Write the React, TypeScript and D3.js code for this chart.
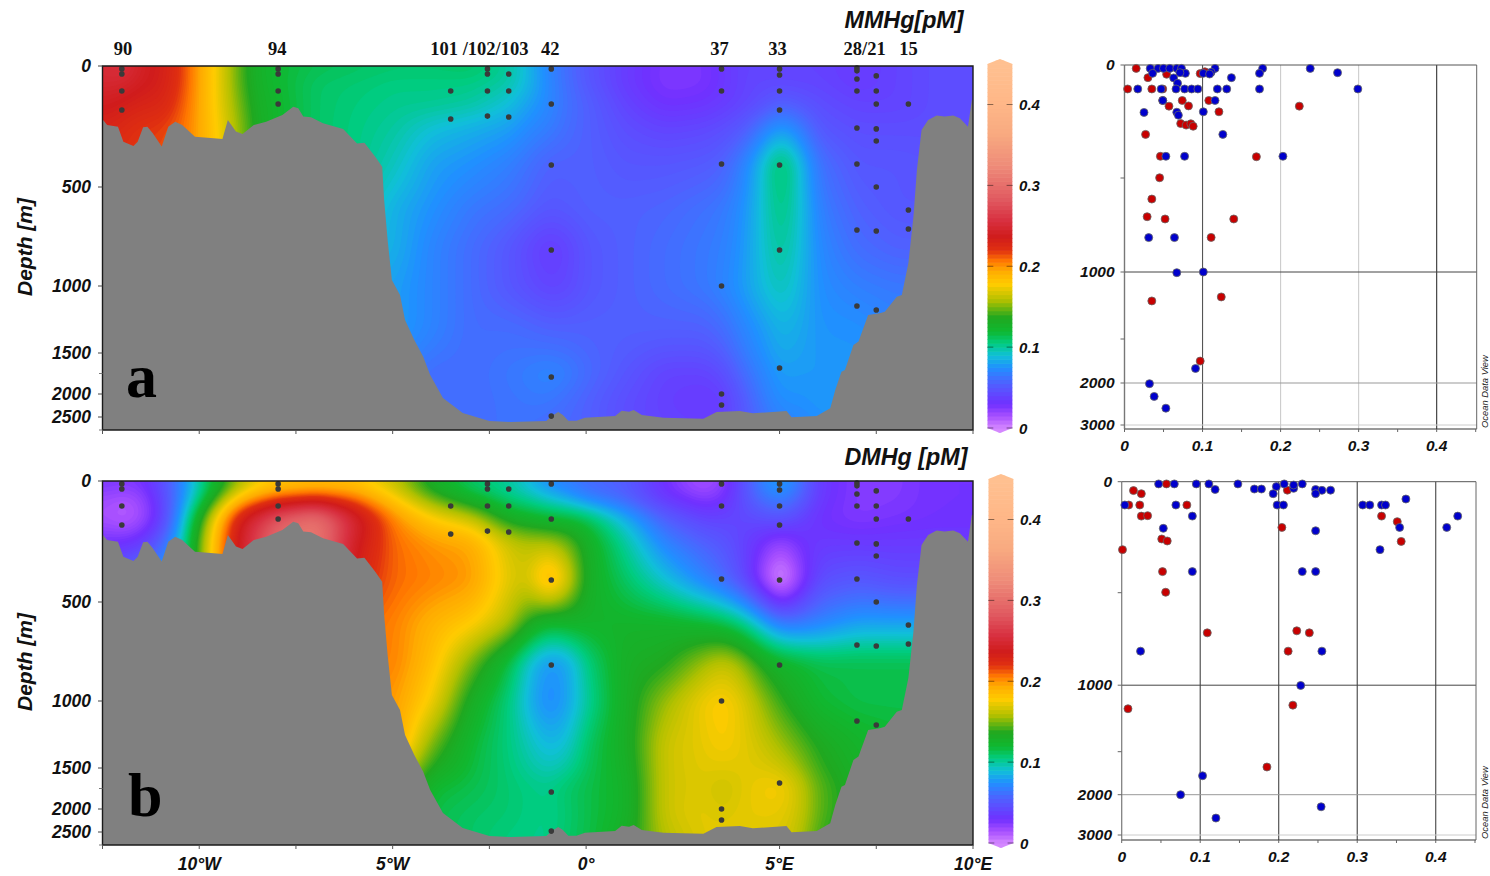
import React, { useMemo } from "react";
import * as d3 from "d3";

// ---------- DATA ----------
const stationLabels = [
  { text: "90", lon: -11.97 }, { text: "94", lon: -7.98 }, { text: "101 /102/103", lon: -2.76 },
  { text: "42", lon: -0.93 }, { text: "37", lon: 3.45 }, { text: "33", lon: 4.95 },
  { text: "28/21", lon: 7.2 }, { text: "15", lon: 8.33 },
];
const stationCasts: [number, number[]][] = [
  [-12, [12, 33, 103, 182]],
  [-7.96, [12, 33, 103, 157]],
  [-3.5, [103, 219]],
  [-2.55, [12, 33, 103, 207]],
  [-2, [33, 103, 211]],
  [-0.9, [12, 157, 409, 818, 1793, 2480]],
  [3.5, [12, 103, 405, 1000, 2000, 2240]],
  [5, [12, 37, 103, 182, 409, 818, 1683]],
  [7, [8, 20, 54, 103, 256, 405, 717, 1149]],
  [7.5, [41, 103, 157, 260, 310, 500, 722, 1179]],
  [8.33, [157, 616, 712]],
];
const bathyLon = [-12.5, -12.38, -12.1, -11.96, -11.7, -11.59, -11.45, -11.34, -11.2, -10.97, -10.8, -10.62, -10.44, -10.11, -9.7, -9.4, -9.26, -9.05, -8.88, -8.59, -8.27, -7.85, -7.57, -7.44, -7.31, -7.11, -6.8, -6.28, -5.92, -5.73, -5.45, -5.27, -5.22, -5.13, -5.02, -4.81, -4.68, -4.44, -4.21, -4.03, -3.7, -3.19, -2.5, -1.95, -1.03, -0.89, -0.72, -0.6, -0.46, -0.25, -0.03, 0.75, 0.92, 1.11, 1.23, 1.44, 2.0, 3.03, 3.37, 3.97, 4.31, 5.18, 5.31, 5.96, 6.31, 6.44, 6.6, 6.69, 6.91, 7.04, 7.29, 7.59, 7.72, 8.03, 8.16, 8.33, 8.46, 8.55, 8.67, 8.84, 9.06, 9.27, 9.49, 9.66, 9.87, 9.97, 10];
const bathyDepth = [220, 244, 251, 313, 331, 313, 253, 251, 278, 333, 251, 230, 244, 292, 298, 302, 223, 271, 281, 244, 230, 202, 168, 175, 209, 212, 237, 260, 320, 317, 375, 416, 566, 768, 970, 1067, 1254, 1403, 1545, 1768, 2087, 2413, 2592, 2615, 2592, 2478, 2391, 2457, 2585, 2585, 2516, 2478, 2363, 2385, 2348, 2457, 2516, 2540, 2391, 2370, 2420, 2370, 2507, 2478, 2311, 1951, 1728, 1707, 1440, 1415, 1216, 1204, 1192, 1080, 1067, 884, 650, 430, 264, 223, 205, 209, 205, 216, 251, 140, 140];

const fieldLon = [-12.5, -12, -11.5, -11, -10.5, -10, -9.5, -9, -8.5, -8, -7, -6, -5, -4, -3, -2, -1.5, -1, -0.5, 0, 1, 2, 3, 3.5, 4, 4.5, 5, 5.5, 6, 7, 8, 9, 10];
const fieldDepth = [0, 50, 150, 250, 400, 600, 800, 1000, 1300, 1700, 2100, 2600];
const mmhgField = [
  [.25, .26, .24, .235, .22, .195, .172, .145, .125, .12, .115, .112, .11, .11, .112, .1, .085, .07, .06, .05, .037, .027, .028, .034, .04, .04, .04, .04, .04, .035, .04, .045, .045],
  [.25, .25, .24, .235, .22, .195, .172, .145, .125, .12, .11, .108, .105, .105, .105, .1, .088, .072, .06, .05, .035, .025, .026, .032, .04, .042, .04, .04, .04, .035, .04, .045, .045],
  [.24, .235, .23, .23, .215, .195, .172, .15, .128, .122, .11, .106, .103, .103, .1, .09, .08, .072, .062, .055, .04, .03, .032, .036, .04, .045, .055, .05, .045, .04, .04, .045, .045],
  [.23, .225, .22, .218, .21, .195, .175, .155, .13, .122, .11, .105, .1, .09, .085, .08, .072, .068, .06, .055, .045, .04, .042, .045, .05, .065, .08, .068, .05, .045, .045, .045, .045],
  [.225, .22, .215, .215, .21, .195, .178, .155, .13, .122, .11, .105, .095, .08, .075, .068, .062, .055, .055, .055, .05, .05, .052, .055, .068, .088, .115, .09, .062, .05, .05, .048, .048],
  [.1, .1, .1, .1, .1, .1, .1, .1, .1, .1, .1, .1, .085, .075, .065, .06, .055, .05, .052, .055, .055, .057, .062, .065, .074, .09, .108, .092, .068, .055, .05, .05, .05],
  [.09, .09, .09, .09, .09, .09, .09, .09, .09, .09, .09, .09, .085, .07, .06, .05, .042, .035, .04, .05, .055, .06, .065, .068, .076, .09, .103, .09, .072, .06, .055, .055, .055],
  [.08, .08, .08, .08, .08, .08, .08, .08, .08, .08, .08, .08, .08, .07, .06, .05, .045, .04, .042, .05, .055, .06, .065, .07, .078, .088, .097, .087, .074, .068, .065, .065, .065],
  [.08, .08, .08, .08, .08, .08, .08, .08, .08, .08, .08, .08, .08, .07, .06, .06, .058, .055, .055, .055, .055, .055, .055, .06, .07, .078, .087, .083, .076, .075, .07, .07, .07],
  [.07, .07, .07, .07, .07, .07, .07, .07, .07, .07, .07, .07, .07, .06, .06, .065, .068, .072, .068, .06, .05, .04, .04, .045, .06, .07, .08, .078, .078, .078, .078, .078, .078],
  [.06, .06, .06, .06, .06, .06, .06, .06, .06, .06, .06, .06, .06, .06, .06, .063, .065, .065, .06, .055, .045, .038, .034, .035, .05, .065, .075, .075, .078, .078, .078, .078, .078],
  [.06, .06, .06, .06, .06, .06, .06, .06, .06, .06, .06, .06, .06, .06, .062, .062, .062, .06, .058, .055, .045, .04, .038, .04, .05, .06, .07, .07, .075, .075, .075, .075, .075],
];
const dmhgField = [
  [.03, .03, .03, .045, .07, .1, .125, .15, .168, .175, .18, .178, .16, .125, .108, .1, .085, .07, .065, .06, .055, .03, .012, .02, .045, .07, .085, .065, .035, .025, .025, .03, .03],
  [.02, .015, .02, .04, .07, .1, .14, .175, .19, .2, .205, .2, .175, .14, .115, .1, .095, .085, .075, .06, .05, .03, .02, .025, .045, .065, .075, .06, .035, .025, .025, .03, .03],
  [.015, .008, .015, .035, .08, .135, .19, .235, .26, .285, .31, .25, .205, .18, .165, .13, .125, .12, .12, .115, .085, .055, .04, .04, .042, .045, .05, .04, .03, .025, .028, .03, .03],
  [.03, .03, .035, .055, .09, .15, .2, .24, .27, .3, .31, .24, .21, .2, .195, .165, .16, .16, .15, .13, .1, .07, .055, .05, .04, .03, .018, .03, .035, .035, .035, .035, .035],
  [.05, .06, .07, .085, .09, .15, .2, .24, .27, .3, .3, .23, .21, .205, .2, .17, .165, .2, .17, .13, .11, .09, .07, .06, .045, .02, -.01, .02, .045, .05, .045, .045, .045],
  [.21, .21, .21, .21, .21, .21, .21, .21, .21, .21, .21, .21, .205, .19, .18, .16, .135, .12, .125, .125, .125, .125, .12, .115, .105, .085, .065, .065, .07, .08, .08, .08, .08],
  [.205, .205, .205, .205, .205, .205, .205, .205, .205, .205, .205, .205, .205, .185, .15, .115, .09, .075, .08, .105, .13, .135, .155, .165, .155, .135, .125, .12, .115, .115, .115, .115, .115],
  [.2, .2, .2, .2, .2, .2, .2, .2, .2, .2, .2, .2, .2, .175, .13, .105, .085, .07, .08, .1, .13, .155, .175, .18, .172, .155, .14, .13, .12, .115, .115, .115, .115],
  [.2, .2, .2, .2, .2, .2, .2, .2, .2, .2, .2, .2, .2, .15, .12, .105, .095, .085, .09, .11, .13, .165, .172, .178, .172, .165, .155, .145, .135, .125, .12, .12, .12],
  [.16, .16, .16, .16, .16, .16, .16, .16, .16, .16, .16, .16, .16, .12, .115, .108, .105, .103, .11, .115, .125, .165, .17, .163, .17, .175, .178, .165, .145, .13, .12, .12, .12],
  [.15, .15, .15, .15, .15, .15, .15, .15, .15, .15, .15, .15, .15, .115, .11, .108, .105, .103, .108, .115, .125, .165, .172, .168, .172, .172, .172, .165, .145, .13, .12, .12, .12],
  [.14, .14, .14, .14, .14, .14, .14, .14, .14, .14, .14, .14, .14, .115, .11, .105, .104, .103, .11, .115, .13, .16, .17, .172, .172, .17, .17, .16, .14, .125, .12, .12, .12],
];

const colorStops = [0, .015, .03, .055, .075, .09, .105, .12, .137, .158, .178, .195, .207, .22, .237, .257, .282, .323, .364, .405, .45];
const colorValues = ["#d488ff", "#a850ff", "#7030ff", "#5060ff", "#2090ff", "#10c0d8", "#00cc80", "#10b830", "#20a820", "#b0c000", "#ffcc00", "#ffaa00", "#ff7700", "#e03010", "#d01c1c", "#d83040", "#e05860", "#ee8a78", "#f8aa80", "#ffb888", "#ffc090"];

const scatterMMHgRed: [number, number][] = [[.015, 15], [.03, 56], [.004, 106], [.035, 106], [.049, 106], [.054, 41], [.049, 157], [.074, 157], [.057, 182], [.082, 181], [.108, 157], [.097, 38], [.103, 30], [.121, 207], [.224, 182], [.072, 259], [.079, 266], [.085, 260], [.088, 271], [.027, 307], [.046, 404], [.169, 406], [.045, 499], [.035, 612], [.029, 706], [.052, 718], [.14, 718], [.111, 816], [.035, 1216], [.124, 1186], [.097, 1751]];
const scatterMMHgBlue: [number, number][] = [[.033, 15], [.043, 15], [.05, 15], [.058, 15], [.067, 15], [.073, 15], [.036, 37], [.078, 37], [.071, 34], [.063, 57], [.068, 81], [.116, 15], [.111, 32], [.101, 37], [.109, 40], [.177, 15], [.173, 37], [.238, 15], [.273, 34], [.137, 56], [.017, 106], [.047, 106], [.066, 106], [.077, 106], [.086, 106], [.094, 106], [.119, 106], [.131, 106], [.173, 106], [.299, 106], [.049, 157], [.116, 157], [.025, 210], [.067, 209], [.069, 222], [.101, 207], [.126, 307], [.053, 404], [.077, 404], [.203, 404], [.031, 817], [.064, 817], [.067, 1005], [.101, 1000], [.091, 1835], [.032, 2016], [.038, 2320], [.053, 2600]];
const scatterDMHgRed: [number, number][] = [[.015, 40], [.025, 54], [.009, 105], [.023, 105], [.025, 155], [.033, 153], [.001, 306], [.051, 258], [.058, 267], [.052, 405], [.056, 498], [.057, 10], [.083, 105], [.211, 38], [.204, 206], [.109, 717], [.223, 706], [.239, 717], [.212, 816], [.218, 1150], [.008, 1177], [.185, 1678], [.331, 155], [.351, 180], [.356, 269]];
const scatterDMHgBlue: [number, number][] = [[.004, 105], [.047, 10], [.067, 10], [.095, 10], [.111, 10], [.119, 35], [.148, 10], [.169, 33], [.178, 33], [.197, 22], [.207, 10], [.193, 54], [.198, 105], [.206, 105], [.219, 30], [.219, 15], [.23, 10], [.247, 35], [.255, 39], [.266, 38], [.247, 54], [.069, 105], [.09, 155], [.053, 210], [.247, 221], [.09, 405], [.23, 405], [.247, 405], [.024, 816], [.255, 816], [.228, 1002], [.103, 1780], [.075, 2000], [.254, 2300], [.12, 2580], [.307, 105], [.316, 105], [.331, 105], [.336, 105], [.362, 78], [.428, 155], [.414, 206], [.354, 206], [.329, 306]];

const depthTicks = [0, 500, 1000, 1500, 2000, 2500];
const depthMinorTicks = [1750, 2800];
const colorTicks = [0, .1, .2, .3, .4];
const lonTicks = [-12.5, -10, -7.5, -5, -2.5, 0, 5, 7.5, 10];
const lonLabels: [number, string][] = [[-10, "10°W"], [-5, "5°W"], [0, "0°"], [5, "5°E"], [10, "10°E"]];
const scatterXTicks = [0, .1, .2, .3, .4];
const scatterYTicks = [0, 1000, 2000, 3000];
const scatterDepthDomain = [0, 500, 1000, 1500, 2000, 3000, 3100];

// ---------- SCALES ----------
const SANS = "'Liberation Sans', Arial, sans-serif";
const SERIF = "'Liberation Serif', 'Times New Roman', serif";
const lonX = d3.scaleLinear().domain([-12.5, 10]).range([102.5, 973]);
const depthOffset = d3.scaleLinear().domain([0, 500, 1000, 1500, 2000, 2500, 2800]).range([0, 121, 220, 287, 328, 351, 364]);
const colorOf = d3.scaleLinear<string>().domain(colorStops).range(colorValues).interpolate(d3.interpolateRgb).clamp(true);

function sampleField(field: number[][], lon: number, depth: number) {
  const i = Math.min(Math.max(d3.bisectRight(fieldLon, lon) - 1, 0), fieldLon.length - 2);
  const j = Math.min(Math.max(d3.bisectRight(fieldDepth, depth) - 1, 0), fieldDepth.length - 2);
  const t = Math.min(1, Math.max(0, (lon - fieldLon[i]) / (fieldLon[i + 1] - fieldLon[i])));
  const u = Math.min(1, Math.max(0, (depth - fieldDepth[j]) / (fieldDepth[j + 1] - fieldDepth[j])));
  return (1 - t) * (1 - u) * field[j][i] + t * (1 - u) * field[j][i + 1] + (1 - t) * u * field[j + 1][i] + t * u * field[j + 1][i + 1];
}

function Section({ top, field, title, titleY, letter, letterX, letterY, barX, barW, showLonLabels }: any) {
  const W = 870.5, H = 364, step = 2;
  const bottom = top + H;
  const paths = useMemo(() => {
    const nx = Math.ceil(W / step) + 1, ny = Math.ceil(H / step) + 1;
    const vals = new Float64Array(nx * ny);
    for (let y = 0; y < ny; y++) {
      const depth = depthOffset.invert(y * step);
      for (let x = 0; x < nx; x++) vals[y * nx + x] = sampleField(field, lonX.invert(102.5 + x * step), depth);
    }
    d3.blur2({ data: vals, width: nx, height: ny }, 4);
    const thresholds = d3.range(-0.02, 0.46, 0.002);
    const gen = d3.contours().size([nx, ny]).thresholds(thresholds);
    const geo = d3.geoPath();
    return gen(Array.from(vals)).map((c) => ({ d: geo(c) || "", fill: colorOf(c.value + 0.001) }));
  }, [field]);
  const seabed = d3.area<number>().x((_, i) => lonX(bathyLon[i])).y0(bottom).y1((_, i) => top + depthOffset(bathyDepth[i]))(bathyLon as any) || "";
  const barY = d3.scaleLinear().domain([0, 0.4]).range([top + 362, top + 38.5]);
  const clipId = `bar${top}`;
  const barTop = barY(0.45), barBottom = barY(0);
  return (
    <g>
      <path d={`M102.5,${top}h${W}v${H}h${-W}z`} fill={colorOf(0.05)} />
      <clipPath id={`sec${top}`}><rect x={102.5} y={top} width={W} height={H} /></clipPath>
      <g clipPath={`url(#sec${top})`}>
        <g transform={`translate(102.5,${top}) scale(${step})`}>
          {paths.map((p, i) => <path key={i} d={p.d} fill={p.fill} />)}
        </g>
        <path d={seabed} fill="#808080" />
      </g>
      {stationCasts.flatMap(([lon, ds]) => ds.map((d) => (
        <circle key={`${lon}-${d}`} cx={lonX(lon)} cy={top + depthOffset(d)} r={2.8} fill="#3a3a3a" />
      )))}
      <path d={`M102.5,${bottom}V${top}H973V${bottom}H102.5`} fill="none" stroke="#1a1a1a" strokeWidth={1.4} />
      {depthTicks.map((d) => (
        <g key={d}>
          <line x1={98} x2={102.5} y1={top + depthOffset(d)} y2={top + depthOffset(d)} stroke="#444" />
          <text x={91} y={top + depthOffset(d) + 6} textAnchor="end" fontFamily={SANS} fontWeight={700} fontStyle="italic" fontSize={17.5} fill="#111">{d}</text>
        </g>
      ))}
      {depthMinorTicks.map((d) => <line key={d} x1={99} x2={102.5} y1={top + depthOffset(d)} y2={top + depthOffset(d)} stroke="#777" />)}
      {lonTicks.map((l) => <line key={l} x1={lonX(l)} x2={lonX(l)} y1={bottom} y2={bottom + 4} stroke="#555" />)}
      {showLonLabels && lonLabels.map(([l, s]) => (
        <text key={s} x={lonX(l)} y={870} textAnchor="middle" fontFamily={SANS} fontWeight={700} fontStyle="italic" fontSize={17.5} fill="#111">{s}</text>
      ))}
      <text transform={`translate(32,${top + 181}) rotate(-90)`} textAnchor="middle" fontFamily={SANS} fontWeight={700} fontStyle="italic" fontSize={21} fill="#111">Depth [m]</text>
      <text x={844.5} y={titleY} fontFamily={SANS} fontWeight={700} fontStyle="italic" fontSize={23.3} fill="#111">{title}</text>
      <text x={letterX} y={letterY} fontFamily={SERIF} fontWeight={700} fontSize={62} fill="#000">{letter}</text>
      <clipPath id={clipId}>
        <polygon points={`${barX},${barTop} ${barX + barW / 2},${barTop - 5} ${barX + barW},${barTop} ${barX + barW},${barBottom} ${barX + barW / 2},${barBottom + 5} ${barX},${barBottom}`} />
      </clipPath>
      <g clipPath={`url(#${clipId})`}>
        {d3.range(-0.01, 0.47, 0.005).map((v) => (
          <rect key={v} x={barX} width={barW} y={barY(v + 0.005)} height={barY(v) - barY(v + 0.005) + 0.6} fill={colorOf(Math.max(v + 0.0025, 0))} />
        ))}
      </g>
      {colorTicks.map((v) => (
        <g key={v}>
          <line x1={barX} x2={barX + 6} y1={barY(v)} y2={barY(v)} stroke="#000" strokeOpacity={0.45} />
          <line x1={barX + barW - 6} x2={barX + barW} y1={barY(v)} y2={barY(v)} stroke="#000" strokeOpacity={0.45} />
          <text x={barX + barW + 6.5} y={barY(v) + 5.5} fontFamily={SANS} fontWeight={700} fontStyle="italic" fontSize={15} fill="#111">{v === 0 ? "0" : v.toFixed(1)}</text>
        </g>
      ))}
    </g>
  );
}

function Scatter({ top, left, right, bottom, red, blue, grid, depthRange, fontSize, labelRight, xLabelY }: any) {
  const x = d3.scaleLinear().domain([0, 0.4]).range([left, left + (right - left) * (312 / 352)]);
  const depth = d3.scaleLinear().domain(scatterDepthDomain).range(depthRange);
  const y = (d: number) => top + depth(d);
  return (
    <g>
      {scatterXTicks.map((v, i) => (
        <line key={v} x1={x(v)} x2={x(v)} y1={top} y2={bottom} stroke={grid[i]} strokeWidth={v === 0 ? 1.4 : 1.1} />
      ))}
      <line x1={left} x2={right} y1={y(1000)} y2={y(1000)} stroke="#444" />
      <line x1={left} x2={right} y1={y(2000)} y2={y(2000)} stroke="#999" />
      <line x1={left} x2={right} y1={y(3000)} y2={y(3000)} stroke="#ccc" />
      <line x1={left} x2={right} y1={top} y2={top} stroke="#555" />
      <line x1={left} x2={right} y1={bottom} y2={bottom} stroke="#333" />
      <line x1={right} x2={right} y1={top} y2={bottom} stroke="#666" />
      <line x1={left} x2={left} y1={top} y2={bottom} stroke="#777" />
      {[0, 500, 1000, 1500, 2000, 3000].map((d) => <line key={d} x1={left - 4} x2={left} y1={y(d)} y2={y(d)} stroke="#666" />)}
      {d3.range(0, 0.451, 0.05).map((v) => <line key={v} x1={x(v)} x2={x(v)} y1={bottom} y2={bottom + 3} stroke="#666" />)}
      {scatterYTicks.map((d) => (
        <text key={d} x={labelRight} y={y(d) + 5} textAnchor="end" fontFamily={SANS} fontWeight={700} fontStyle="italic" fontSize={fontSize} fill="#111">{d}</text>
      ))}
      {scatterXTicks.map((v) => (
        <text key={v} x={x(v)} y={xLabelY} textAnchor="middle" fontFamily={SANS} fontWeight={700} fontStyle="italic" fontSize={fontSize} fill="#111">{v === 0 ? "0" : v.toFixed(1)}</text>
      ))}
      {red.map(([v, d]: [number, number], i: number) => <circle key={`r${i}`} cx={x(v)} cy={y(d)} r={4} fill="#c80000" stroke="#666" strokeWidth={0.8} />)}
      {blue.map(([v, d]: [number, number], i: number) => <circle key={`b${i}`} cx={x(v)} cy={y(d)} r={4} fill="#0000cc" stroke="#666" strokeWidth={0.8} />)}
      <text transform={`translate(1488,${bottom - 1}) rotate(-90)`} fontFamily={SANS} fontStyle="italic" fontSize={9.4} fill="#222">Ocean Data View</text>
    </g>
  );
}

export default function App() {
  return (
    <svg width={1490} height={876} viewBox="0 0 1490 876" style={{ position: "absolute", left: 0, top: 0, display: "block", background: "#fff" }}>
      {stationLabels.map((s) => (
        <text key={s.text} x={lonX(s.lon)} y={55} textAnchor="middle" fontFamily={SERIF} fontWeight={700} fontSize={18.5} fill="#111">{s.text}</text>
      ))}
      <Section top={66} field={mmhgField} title="MMHg[pM]" titleY={28} letter="a" letterX={126} letterY={397} barX={987.3} barW={25.3} showLonLabels={false} />
      <Section top={481} field={dmhgField} title="DMHg [pM]" titleY={465} letter="b" letterX={128} letterY={816} barX={988.3} barW={25.3} showLonLabels={true} />
      <Scatter top={65} left={1124.5} right={1476.7} bottom={429} red={scatterMMHgRed} blue={scatterMMHgBlue} fontSize={15.5} labelRight={1114.5} xLabelY={451} depthRange={[0, 113, 207, 274, 318, 360, 364]} grid={["#777", "#555", "#ccc", "#ccc", "#333"]} />
      <Scatter top={481.7} left={1121.7} right={1476} bottom={840} red={scatterDMHgRed} blue={scatterDMHgBlue} fontSize={15.5} labelRight={1112} xLabelY={862} depthRange={[0, 111, 203.5, 270, 313, 353.3, 358.3]} grid={["#ccc", "#444", "#444", "#444", "#444"]} />
    </svg>
  );
}
